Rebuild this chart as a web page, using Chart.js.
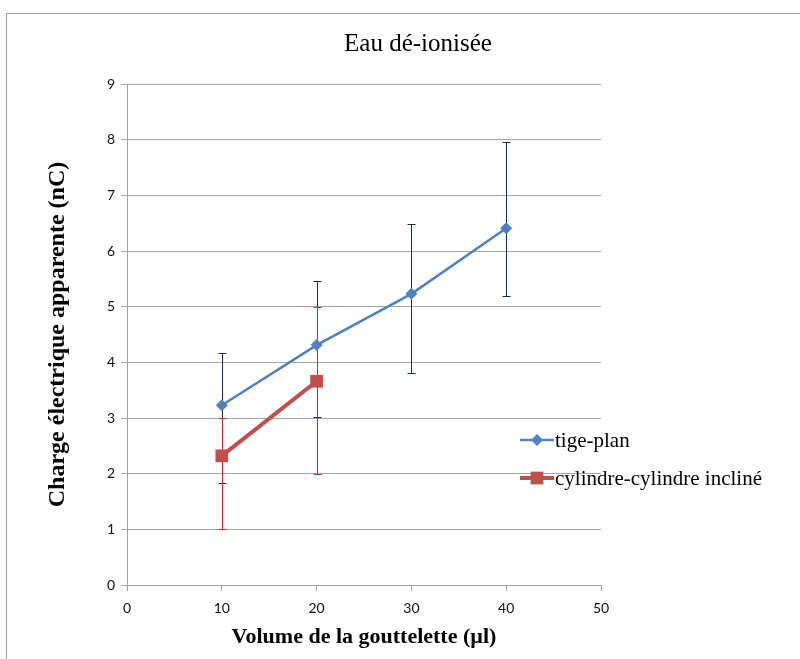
<!DOCTYPE html>
<html>
<head>
<meta charset="utf-8">
<script src="https://cdn.jsdelivr.net/npm/chart.js@4.4.1/dist/chart.umd.min.js"></script>
<style>
  body { margin: 0; background: #fff; }
  canvas { display: block; }
</style>
</head>
<body>
<canvas id="readings" width="800" height="659"></canvas>
<script>
// values
const volumes = [10, 20, 30, 40];
const tigePlan = [3.23, 4.31, 5.23, 6.41];
const tigePlanLow = [1.84, 3.02, 3.81, 5.19];
const tigePlanHigh = [4.16, 5.46, 6.48, 7.95];

const cylVolumes = [10, 20];
const cylindre = [2.32, 3.66];
const cylindreLow = [1.0, 2.0];
const cylindreHigh = [3.0, 5.0];

const toPoints = (xs, ys) => xs.map((x, i) => ({ x: x, y: ys[i] }));

// gray frame round the whole chart
const frame = {
    id: 'frame',
    beforeDraw(chart) {
        const c = chart.ctx;
        c.save();
        c.fillStyle = '#fff';
        c.fillRect(0, 0, chart.width, chart.height);
        c.strokeStyle = '#a0a0a0';
        c.lineWidth = 1;
        c.strokeRect(6.5, 13.5, 900, 900);
        c.restore();
    }
};

// error bars, drawn under the lines
const errorBars = {
    id: 'errorBars',
    beforeDatasetsDraw(chart) {
        const c = chart.ctx;
        const xs = chart.scales.x, ys = chart.scales.y;
        c.save();
        chart.data.datasets.forEach(ds => {
            c.strokeStyle = ds.errColor;
            c.lineWidth = 1;
            ds.data.forEach((p, i) => {
                const x = Math.round(xs.getPixelForValue(p.x)) + 0.5;
                const y1 = ys.getPixelForValue(ds.errLow[i]);
                const y2 = ys.getPixelForValue(ds.errHigh[i]);
                c.beginPath();
                c.moveTo(x, y1); c.lineTo(x, y2);
                c.moveTo(x - 4, Math.round(y1) + 0.5); c.lineTo(x + 4, Math.round(y1) + 0.5);
                c.moveTo(x - 4, Math.round(y2) + 0.5); c.lineTo(x + 4, Math.round(y2) + 0.5);
                c.stroke();
            });
        });
        c.restore();
    }
};

// legend laid over the right side of the plot, as in the picture
const sideLegend = {
    id: 'sideLegend',
    afterDraw(chart) {
        const c = chart.ctx;
        c.save();
        chart.data.datasets.forEach((ds, i) => {
            const y = 440 + i * 38;
            c.strokeStyle = ds.borderColor;
            c.lineWidth = ds.borderWidth;
            c.beginPath();
            c.moveTo(520, y); c.lineTo(554, y);
            c.stroke();
            c.fillStyle = ds.pointBackgroundColor;
            const r = ds.pointRadius;
            c.beginPath();
            if (ds.pointStyle === 'rectRot') {
                c.moveTo(537, y - r); c.lineTo(537 + r, y); c.lineTo(537, y + r); c.lineTo(537 - r, y);
            } else {
                const s = r * Math.SQRT1_2;
                c.rect(537 - s, y - s, 2 * s, 2 * s);
            }
            c.fill();
            c.fillStyle = '#000';
            c.font = '21px "Liberation Serif"';
            c.textBaseline = 'middle';
            c.fillText(ds.label, 555, y + 1);
        });
        c.restore();
    }
};

new Chart('readings', {
    type: 'line',
    data: {
        datasets: [{
            label: 'tige-plan',
            data: toPoints(volumes, tigePlan),
            errLow: tigePlanLow,
            errHigh: tigePlanHigh,
            errColor: '#102a6a',
            borderColor: '#4f81bd',
            backgroundColor: '#4f81bd',
            pointBackgroundColor: '#4f81bd',
            borderWidth: 2.5,
            pointStyle: 'rectRot',
            pointRadius: 6,
            pointBorderWidth: 0
        },
        {
            label: 'cylindre-cylindre incliné',
            data: toPoints(cylVolumes, cylindre),
            errLow: cylindreLow,
            errHigh: cylindreHigh,
            errColor: '#d42a2a',
            borderColor: '#c0504d',
            backgroundColor: '#c0504d',
            pointBackgroundColor: '#c0504d',
            borderWidth: 4,
            pointStyle: 'rect',
            pointRadius: 9,
            pointBorderWidth: 0
        }]
    },
    options: {
        responsive: false,
        animation: false,
        layout: { padding: { left: 36, right: 0, top: 0, bottom: 0 } },
        plugins: {
            legend: { display: false },
            tooltip: { enabled: false },
            title: {
                display: true,
                text: 'Eau dé-ionisée',
                color: '#000',
                font: { family: '"Liberation Serif"', size: 25, weight: 'normal', lineHeight: 1.2 },
                padding: { top: 29, bottom: 25 }
            }
        },
        scales: {
            x: {
                type: 'linear',
                min: 0, max: 50,
                ticks: { stepSize: 10, color: '#111', font: { family: 'Lato', size: 14 }, padding: 9 },
                grid: { drawOnChartArea: false, drawTicks: true, tickLength: 6, color: '#a0a0a0' },
                border: { color: '#a0a0a0' },
                title: {
                    display: true,
                    text: 'Volume de la gouttelette (µl)',
                    color: '#000',
                    font: { family: '"Liberation Serif"', size: 22, weight: 'bold', lineHeight: 1.2 },
                    padding: { top: 0, bottom: 8 }
                },
                afterFit: s => { s.height = 74; }
            },
            y: {
                min: 0, max: 9,
                ticks: { stepSize: 1, color: '#111', font: { family: 'Lato', size: 14 }, padding: 6 },
                grid: { color: '#a6a6a6', drawTicks: true, tickLength: 6 },
                border: { color: '#a0a0a0' },
                title: {
                    display: true,
                    text: 'Charge électrique apparente (nC)',
                    color: '#000',
                    font: { family: '"Liberation Serif"', size: 24, weight: 'bold', lineHeight: 1.2 },
                    padding: { top: 7, bottom: 0 }
                },
                afterFit: s => { s.width = 91; }
            },
            // empty axis that only keeps room on the right
            right: {
                position: 'right',
                display: true,
                ticks: { display: false },
                grid: { display: false },
                border: { display: false },
                afterFit: s => { s.width = 199; }
            }
        }
    },
    plugins: [frame, errorBars, sideLegend]
});
</script>
</body>
</html>
